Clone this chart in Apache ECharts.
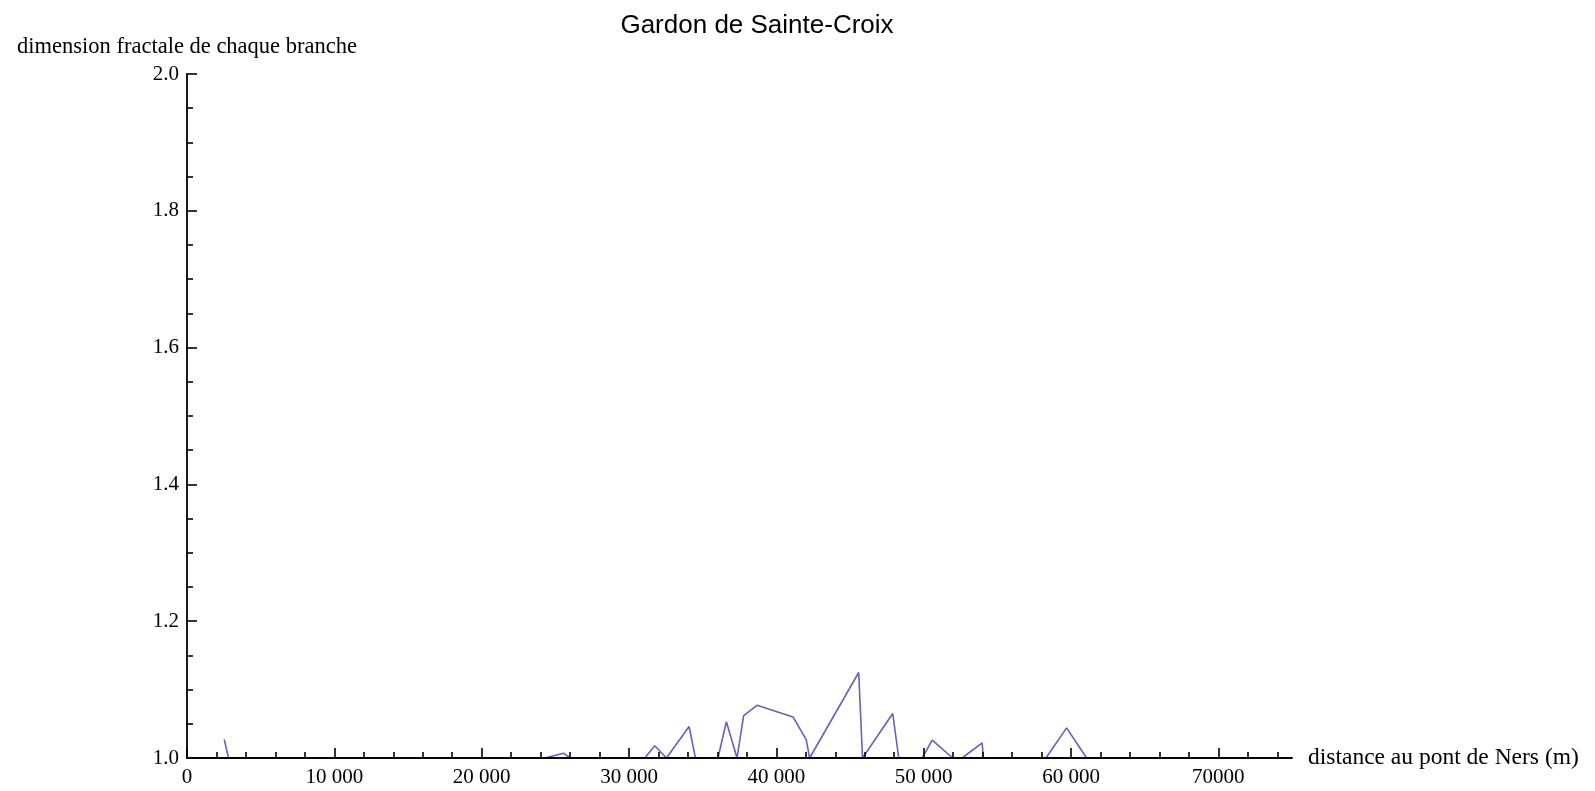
<!DOCTYPE html>
<html>
<head>
<meta charset="utf-8">
<title>Gardon de Sainte-Croix</title>
<script src="https://cdn.jsdelivr.net/npm/echarts@6/dist/echarts.min.js"></script>
<style>
    html, body { margin: 0; padding: 0; background: #fff; }
    #chart { width: 1595px; height: 791px; }
</style>
</head>
<body>
<div id="chart"></div>
<script>
    // distance au pont de Ners (m) / dimension fractale
    var distances = [2530, 2820, 24300, 25550, 26000, 31070, 31750, 32540, 34080, 34510,
        36040, 36610, 37330, 37780, 38690, 41130, 42030, 42260, 45590, 45850,
        47900, 48310, 49900, 50580, 51970, 52610, 53970, 54050, 58300, 59700, 61060];
    var dims = [1.027, 1.0, 1.0, 1.007, 1.0, 1.0, 1.018, 1.0, 1.046, 1.0,
        1.0, 1.053, 1.0, 1.062, 1.077, 1.060, 1.027, 1.0, 1.125, 1.0,
        1.065, 1.0, 1.0, 1.026, 1.0, 1.0, 1.022, 1.0, 1.0, 1.044, 1.0];

    // ticks de l'axe x
    var xMajorTicks = [0, 10000, 20000, 30000, 40000, 50000, 60000, 70000];
    var xTickLabels = ['0', '10 000', '20 000', '30 000', '40 000', '50 000', '60 000', '70000'];
    var xMinorTicks = [];
    for (var v = 2000; v < 75000; v += 2000) {
        if (v % 10000 !== 0) { xMinorTicks.push(v); }
    }

    var serif = '"Liberation Serif", "DejaVu Serif", serif';
    var chart = echarts.init(document.getElementById('chart'));

    chart.setOption({
        animation: false,
        title: {
            text: 'Gardon de Sainte-Croix',
            left: 752,
            textAlign: 'center',
            top: 8,
            textStyle: {
                fontFamily: '"Liberation Sans", Arial, sans-serif',
                fontSize: 26,
                fontWeight: 'normal',
                color: '#000'
            }
        },
        grid: {
            left: 187,
            right: 303,
            top: 74,
            bottom: 33
        },
        xAxis: [
            {
                type: 'value',
                min: 0,
                max: 75000,
                z: 5,
                name: 'distance au pont de Ners (m)',
                nameLocation: 'end',
                nameGap: 16,
                nameTextStyle: { fontFamily: serif, fontSize: 23.5, color: '#000' },
                splitLine: { show: false },
                axisLine: { lineStyle: { color: '#000', width: 1.8 } },
                axisTick: {
                    inside: true,
                    length: 10,
                    customValues: xMajorTicks,
                    lineStyle: { color: '#000', width: 1.6 }
                },
                axisLabel: {
                    customValues: xMajorTicks,
                    margin: 9,
                    fontFamily: serif,
                    fontSize: 21,
                    color: '#000',
                    formatter: function (v) {
                        var i = xMajorTicks.indexOf(v);
                        return i >= 0 ? xTickLabels[i] : '';
                    }
                }
            },
            {
                // petits ticks tous les 2000 m
                type: 'value',
                min: 0,
                max: 75000,
                z: 5,
                position: 'bottom',
                splitLine: { show: false },
                axisLine: { show: false },
                axisLabel: { show: false },
                axisTick: {
                    inside: true,
                    length: 6,
                    customValues: xMinorTicks,
                    lineStyle: { color: '#000', width: 1.6 }
                }
            }
        ],
        yAxis: {
            type: 'value',
            min: 1,
            max: 2,
            interval: 0.2,
            name: 'dimension fractale de chaque branche',
            nameLocation: 'end',
            nameGap: 15,
            nameTextStyle: { fontFamily: serif, fontSize: 22.5, color: '#000' },
            splitLine: { show: false },
            axisLine: { lineStyle: { color: '#000', width: 1.8 } },
            axisTick: { inside: true, length: 10, lineStyle: { color: '#000', width: 1.6 } },
            minorTick: { show: true, splitNumber: 4, length: 6, lineStyle: { color: '#000', width: 1.6 } },
            minorSplitLine: { show: false },
            axisLabel: {
                margin: 8,
                fontFamily: serif,
                fontSize: 21,
                color: '#000',
                formatter: function (v) { return v.toFixed(1); }
            }
        },
        series: [
            {
                type: 'line',
                xAxisIndex: 0,
                data: distances.map(function (d, i) { return [d, dims[i]]; }),
                showSymbol: false,
                clip: true,
                lineStyle: { color: '#6262c0', width: 1.6 }
            }
        ]
    });
</script>
</body>
</html>
